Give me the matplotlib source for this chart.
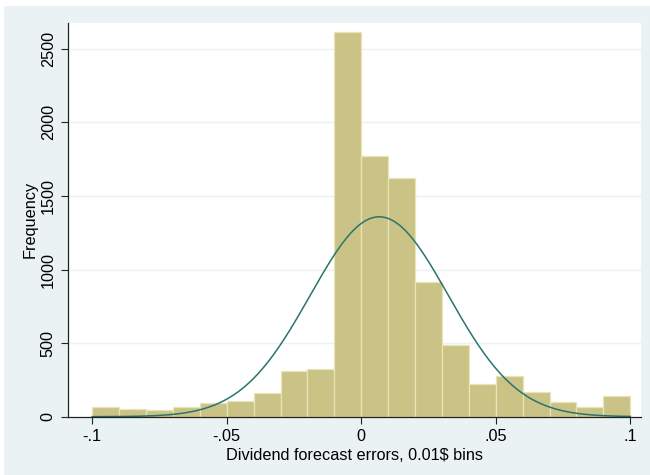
import numpy as np
import matplotlib
matplotlib.use("Agg")
import matplotlib.pyplot as plt
from matplotlib.patches import Rectangle

# Data
bin_edges = [-0.10, -0.09, -0.08, -0.07, -0.06, -0.05, -0.04, -0.03, -0.02, -0.01,
             0.00, 0.01, 0.02, 0.03, 0.04, 0.05, 0.06, 0.07, 0.08, 0.09, 0.10]
counts = [64, 50, 45, 68, 91, 109, 159, 311, 322, 2611,
          1773, 1623, 918, 485, 220, 275, 166, 102, 68, 139]
normal_mean = 0.0067
normal_sd = 0.0257
normal_n = 8750
bin_width = 0.01

xticks = [-0.1, -0.05, 0, 0.05, 0.1]
xticklabels = ["-.1", "-.05", "0", ".05", ".1"]
yticks = [0, 500, 1000, 1500, 2000, 2500]
yticklabels = ["0", "500", "1000", "1500", "2000", "2500"]

plt.rcParams['font.family'] = ['Liberation Sans', 'DejaVu Sans']
FS = 11.7

fig = plt.figure(figsize=(6.5, 4.75), dpi=100)
fig.patch.set_facecolor("white")
fig.patches.append(Rectangle((4/650, 0), 1 - 4/650, 1 - 6/475, transform=fig.transFigure,
                             facecolor="#EAF2F3", edgecolor="none", zorder=-10))

ax = fig.add_axes([68.3/650, 1 - 416.7/475, (641 - 68.3)/650, (416.7 - 22.7)/475])
ax.set_facecolor("white")

lefts = np.array(bin_edges[:-1])
widths = np.diff(bin_edges)
ax.bar(lefts, counts, width=widths, align="edge", color="#CBC386",
       edgecolor="#E8E4B8", linewidth=0.9, zorder=2)

xs = np.linspace(bin_edges[0], bin_edges[-1], 400)
ys = normal_n * bin_width / (normal_sd * np.sqrt(2 * np.pi)) * np.exp(-0.5 * ((xs - normal_mean) / normal_sd) ** 2)
ax.plot(xs, ys, color="#2A7470", linewidth=1.1, zorder=3)

ax.set_xlim(-0.1089, 0.1040)
ax.set_ylim(0, 2677)

ax.set_yticks(yticks)
ax.set_yticklabels(yticklabels, rotation=90, va="center", fontsize=FS)
ax.set_xticks(xticks)
ax.set_xticklabels(xticklabels, fontsize=FS)
ax.tick_params(axis="both", direction="out", length=5, width=0.8, color="#222222", pad=4)
ax.tick_params(axis="y", pad=4)

for y in yticks[1:]:
    ax.axhline(y, color="#EAF2F3", linewidth=1.0, zorder=1)

for s in ["top", "right"]:
    ax.spines[s].set_visible(False)
for s in ["left", "bottom"]:
    ax.spines[s].set_color("#222222")
    ax.spines[s].set_linewidth(0.9)
    ax.spines[s].set_zorder(4)

ax.set_xlabel("Dividend forecast errors, 0.01$ bins", fontsize=FS, labelpad=2.5)
ax.set_ylabel("Frequency", fontsize=FS, labelpad=2)

fig.savefig("out.png", dpi=100, facecolor=fig.get_facecolor())
